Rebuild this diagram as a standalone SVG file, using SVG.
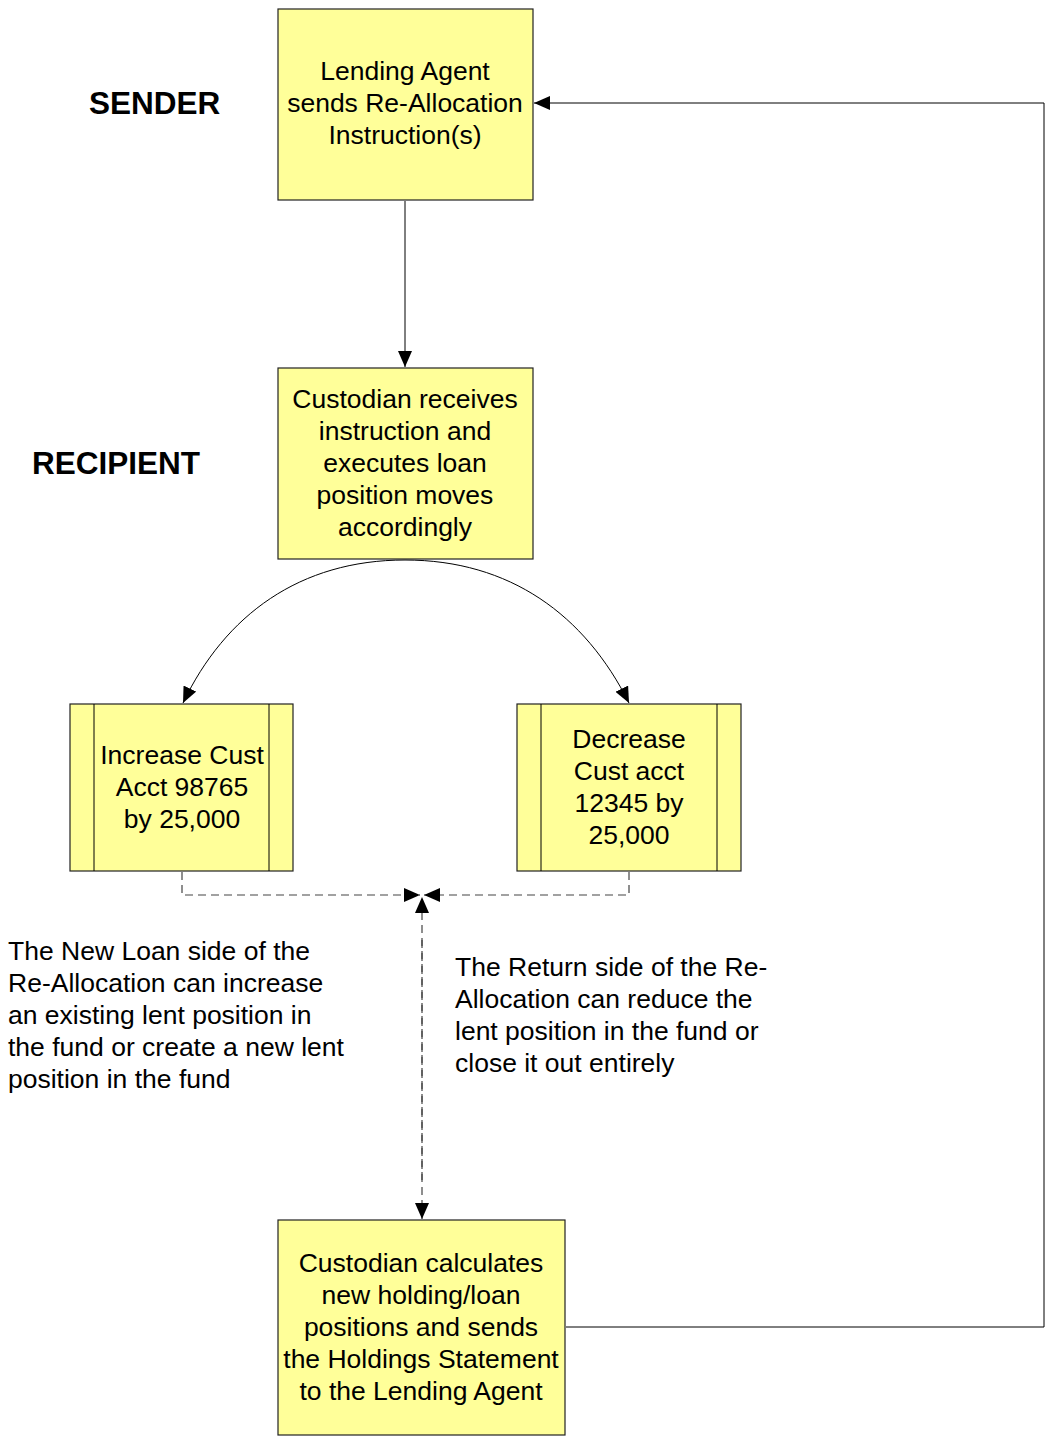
<svg xmlns="http://www.w3.org/2000/svg" width="1046" height="1444" viewBox="0 0 1046 1444">
<defs>
<style>
text{font-family:"Liberation Sans",Arial,sans-serif;font-size:26.5px;fill:#000}
.c{text-anchor:middle}
.h{font-weight:bold;font-size:31.5px}
.box{fill:#ffff99;stroke:#222;stroke-width:1.2}
.ln{fill:none;stroke:#000;stroke-width:1}
.dl{fill:none;stroke:#444;stroke-width:1.2;stroke-dasharray:8,5}
</style>
<marker id="ah" viewBox="0 0 16 14" refX="16" refY="7" markerWidth="16" markerHeight="14" markerUnits="userSpaceOnUse" orient="auto">
<path d="M0,0 L16,7 L0,14 z" fill="#000"/>
</marker>
</defs>
<rect width="1046" height="1444" fill="#fff"/>
<text class="h" x="89" y="114">SENDER</text>
<text class="h" x="32" y="474">RECIPIENT</text>
<g id="connectors">
<path class="ln" d="M405,201 V367" marker-end="url(#ah)"/>
<path class="ln" d="M405,560 C300,560 225,615 183,703" marker-end="url(#ah)"/>
<path class="ln" d="M405,560 C510,560 585,615 629,703" marker-end="url(#ah)"/>
<path class="ln" d="M566,1327 H1044 V103 H534" marker-end="url(#ah)"/>
<path class="dl" d="M182,872 V895 H420" marker-end="url(#ah)"/>
<path class="dl" d="M629,872 V895 H424" marker-end="url(#ah)"/>
<path class="dl" d="M422,1180 V897" marker-end="url(#ah)"/>
<path class="dl" d="M422,940 V1219" marker-end="url(#ah)"/>
</g>
<g id="n1">
<rect class="box" x="278" y="9" width="255" height="191"/>
<text class="c" x="405" y="80">Lending Agent</text>
<text class="c" x="405" y="112">sends Re-Allocation</text>
<text class="c" x="405" y="144">Instruction(s)</text>
</g>
<g id="n2">
<rect class="box" x="278" y="368" width="255" height="191"/>
<text class="c" x="405" y="408">Custodian receives</text>
<text class="c" x="405" y="440">instruction and</text>
<text class="c" x="405" y="472">executes loan</text>
<text class="c" x="405" y="504">position moves</text>
<text class="c" x="405" y="536">accordingly</text>
</g>
<g id="n3">
<rect class="box" x="70" y="704" width="223" height="167"/>
<path class="ln" d="M94,704 V871 M269,704 V871"/>
<text class="c" x="182" y="764">Increase Cust</text>
<text class="c" x="182" y="796">Acct 98765</text>
<text class="c" x="182" y="828">by 25,000</text>
</g>
<g id="n4">
<rect class="box" x="517" y="704" width="224" height="167"/>
<path class="ln" d="M541,704 V871 M717,704 V871"/>
<text class="c" x="629" y="748">Decrease</text>
<text class="c" x="629" y="780">Cust acct</text>
<text class="c" x="629" y="812">12345 by</text>
<text class="c" x="629" y="844">25,000</text>
</g>
<g id="n5">
<rect class="box" x="278" y="1220" width="287" height="215"/>
<text class="c" x="421" y="1272">Custodian calculates</text>
<text class="c" x="421" y="1304">new holding/loan</text>
<text class="c" x="421" y="1336">positions and sends</text>
<text class="c" x="421" y="1368">the Holdings Statement</text>
<text class="c" x="421" y="1400">to the Lending Agent</text>
</g>
<g id="note-left">
<text x="8" y="960">The New Loan side of the</text>
<text x="8" y="992">Re-Allocation can increase</text>
<text x="8" y="1024">an existing lent position in</text>
<text x="8" y="1056">the fund or create a new lent</text>
<text x="8" y="1088">position in the fund</text>
</g>
<g id="note-right">
<text x="455" y="976">The Return side of the Re-</text>
<text x="455" y="1008">Allocation can reduce the</text>
<text x="455" y="1040">lent position in the fund or</text>
<text x="455" y="1072">close it out entirely</text>
</g>
</svg>
